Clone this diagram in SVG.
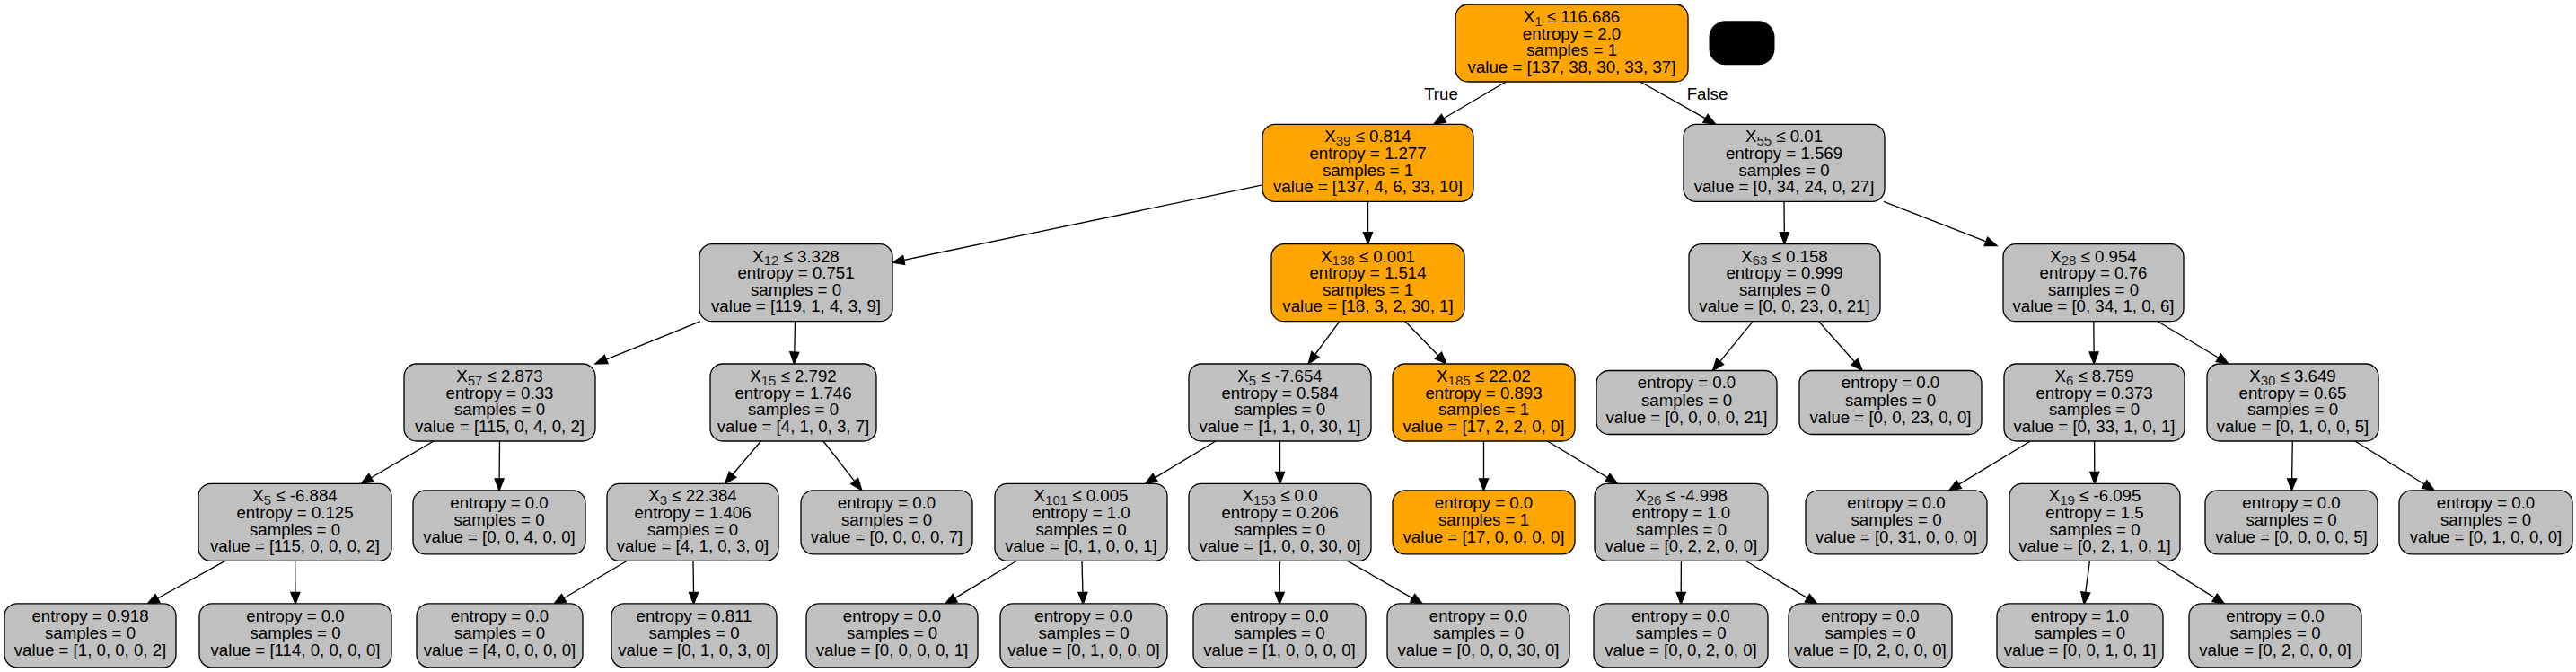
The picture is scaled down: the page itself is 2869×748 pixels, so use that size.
<svg xmlns="http://www.w3.org/2000/svg" width="2869" height="748" viewBox="0 0 2869 748">
<style>
.nd rect{stroke:#000;stroke-width:1.33}
.o rect{fill:#ffa500}
.g rect{fill:#c0c0c0}
text{font-family:"Liberation Sans",Arial,sans-serif;font-size:18.67px;text-anchor:middle;fill:#000}
.s{font-size:15px;fill:#222}
#edges line{stroke:#000;stroke-width:1.33}
#edges polygon{fill:#000;stroke:#000;stroke-width:1.33}
</style>
<rect width="2869" height="748" fill="#fff"/>
<g id="edges">
<line x1="1677.3" y1="91" x2="1607.9" y2="131.7"/><polygon points="1596.7,138.3 1605.4,127.4 1610.4,136"/>
<text x="1605" y="111">True</text>
<line x1="1826.8" y1="91" x2="1899.4" y2="131.9"/><polygon points="1910.7,138.3 1896.9,136.3 1901.9,127.5"/>
<text x="1901.5" y="111">False</text>
<line x1="1406" y1="205.9" x2="1006.7" y2="289.5"/><polygon points="994,292.2 1005.7,284.6 1007.7,294.4"/>
<line x1="1523.5" y1="224.3" x2="1523.5" y2="258.7"/><polygon points="1523.5,271.7 1518.5,258.7 1528.5,258.7"/>
<line x1="1987" y1="224.3" x2="1987.3" y2="258.7"/><polygon points="1987.5,271.7 1982.3,258.7 1992.3,258.7"/>
<line x1="2098" y1="224.3" x2="2211.9" y2="268.8"/><polygon points="2224,273.5 2210.1,273.5 2213.7,264.1"/>
<line x1="780" y1="357.7" x2="675.1" y2="400.1"/><polygon points="663,405 673.2,395.5 677,404.7"/>
<line x1="885.5" y1="357.7" x2="884.8" y2="392"/><polygon points="884.5,405 879.8,391.7 889.8,392.3"/>
<line x1="1491.9" y1="357.7" x2="1464.8" y2="394.5"/><polygon points="1457.1,405 1460.8,391.5 1468.8,397.5"/>
<line x1="1565.1" y1="357.7" x2="1601.9" y2="395.7"/><polygon points="1610.9,405 1598.3,399.2 1605.5,392.2"/>
<line x1="1952.3" y1="357.7" x2="1915.7" y2="402.4"/><polygon points="1907.5,412.5 1911.8,399.2 1919.6,405.6"/>
<line x1="2025.6" y1="357.7" x2="2065.5" y2="402.8"/><polygon points="2074.1,412.5 2061.8,406.1 2069.2,399.5"/>
<line x1="2331.8" y1="357.7" x2="2332.1" y2="392"/><polygon points="2332.2,405 2327.1,392 2337.1,392"/>
<line x1="2403.1" y1="357.7" x2="2470.8" y2="398.3"/><polygon points="2481.9,405 2468.2,402.6 2473.4,394"/>
<line x1="482.9" y1="491" x2="413.3" y2="531.7"/><polygon points="402.1,538.3 410.8,527.4 415.8,536"/>
<line x1="556.5" y1="491" x2="556.1" y2="532.8"/><polygon points="556,545.8 551.1,532.8 561.1,532.8"/>
<line x1="847.4" y1="491" x2="816" y2="528.3"/><polygon points="807.6,538.3 812.2,525.1 819.8,531.5"/>
<line x1="917" y1="491" x2="951.8" y2="535.6"/><polygon points="959.8,545.8 947.9,538.7 955.7,532.5"/>
<line x1="1354" y1="491" x2="1286.6" y2="531.6"/><polygon points="1275.5,538.3 1284,527.3 1289.2,535.9"/>
<line x1="1425.5" y1="491" x2="1425.5" y2="525.3"/><polygon points="1425.5,538.3 1420.5,525.3 1430.5,525.3"/>
<line x1="1652.5" y1="491" x2="1652.5" y2="532.8"/><polygon points="1652.5,545.8 1647.5,532.8 1657.5,532.8"/>
<line x1="1723.5" y1="491" x2="1790.4" y2="531.6"/><polygon points="1801.5,538.3 1787.8,535.9 1793,527.3"/>
<line x1="2261.4" y1="491" x2="2181.8" y2="539.1"/><polygon points="2170.7,545.8 2179.2,534.8 2184.4,543.4"/>
<line x1="2332.6" y1="491" x2="2332.8" y2="525.3"/><polygon points="2332.9,538.3 2327.8,525.3 2337.8,525.3"/>
<line x1="2553.3" y1="491" x2="2552.6" y2="532.8"/><polygon points="2552.4,545.8 2547.6,532.8 2557.6,532.8"/>
<line x1="2622.9" y1="491" x2="2700.2" y2="539"/><polygon points="2711.2,545.8 2697.6,543.3 2702.8,534.8"/>
<line x1="250.8" y1="624.3" x2="175.5" y2="666"/><polygon points="164.1,672.3 173.1,661.6 177.9,670.4"/>
<line x1="328.6" y1="624.3" x2="328.9" y2="659.3"/><polygon points="329,672.3 323.9,659.3 333.9,659.3"/>
<line x1="698.4" y1="624.3" x2="628" y2="665.7"/><polygon points="616.8,672.3 625.5,661.4 630.5,670"/>
<line x1="772" y1="624.3" x2="772.5" y2="659.3"/><polygon points="772.6,672.3 767.5,659.3 777.5,659.3"/>
<line x1="1132.4" y1="624.3" x2="1063.7" y2="665.6"/><polygon points="1052.6,672.3 1061.1,661.3 1066.3,669.9"/>
<line x1="1205" y1="624.3" x2="1205.9" y2="659.3"/><polygon points="1206.2,672.3 1200.9,659.3 1210.9,659.3"/>
<line x1="1425.4" y1="624.3" x2="1425.2" y2="659.3"/><polygon points="1425.1,672.3 1420.2,659.3 1430.2,659.3"/>
<line x1="1500.6" y1="624.3" x2="1573.2" y2="665.8"/><polygon points="1584.5,672.3 1570.7,670.1 1575.7,661.5"/>
<line x1="1872.4" y1="624.3" x2="1872.2" y2="659.3"/><polygon points="1872.1,672.3 1867.2,659.3 1877.2,659.3"/>
<line x1="1944.1" y1="624.3" x2="2012.8" y2="665.6"/><polygon points="2023.9,672.3 2010.2,669.9 2015.4,661.3"/>
<line x1="2327.4" y1="624.3" x2="2322.8" y2="659.4"/><polygon points="2321.1,672.3 2317.8,658.8 2327.8,660"/>
<line x1="2401.3" y1="624.3" x2="2466.6" y2="665.4"/><polygon points="2477.6,672.3 2463.9,669.6 2469.3,661.2"/>
</g>
<g id="legend"><rect x="1903.5" y="23.3" width="73" height="49" rx="18" fill="#000"/></g>
<g id="n0" class="nd o" transform="translate(1750.5,48)"><rect x="-129.5" y="-43" width="259" height="86" rx="14"/><text y="-23">X<tspan class="s" dy="3.5">1</tspan><tspan dy="-3.5"> ≤ 116.686</tspan></text><text y="-4.4">entropy = 2.0</text><text y="14.2">samples = 1</text><text y="32.6">value = [137, 38, 30, 33, 37]</text></g>
<g id="n1" class="nd o" transform="translate(1523.5,181.3)"><rect x="-117.5" y="-43" width="235" height="86" rx="14"/><text y="-23">X<tspan class="s" dy="3.5">39</tspan><tspan dy="-3.5"> ≤ 0.814</tspan></text><text y="-4.4">entropy = 1.277</text><text y="14.2">samples = 1</text><text y="32.6">value = [137, 4, 6, 33, 10]</text></g>
<g id="n2" class="nd g" transform="translate(1987,181.3)"><rect x="-112" y="-43" width="224" height="86" rx="14"/><text y="-23">X<tspan class="s" dy="3.5">55</tspan><tspan dy="-3.5"> ≤ 0.01</tspan></text><text y="-4.4">entropy = 1.569</text><text y="14.2">samples = 0</text><text y="32.6">value = [0, 34, 24, 0, 27]</text></g>
<g id="n3" class="nd g" transform="translate(886.5,314.7)"><rect x="-107.5" y="-43" width="215" height="86" rx="14"/><text y="-23">X<tspan class="s" dy="3.5">12</tspan><tspan dy="-3.5"> ≤ 3.328</tspan></text><text y="-4.4">entropy = 0.751</text><text y="14.2">samples = 0</text><text y="32.6">value = [119, 1, 4, 3, 9]</text></g>
<g id="n4" class="nd o" transform="translate(1523.5,314.7)"><rect x="-107.5" y="-43" width="215" height="86" rx="14"/><text y="-23">X<tspan class="s" dy="3.5">138</tspan><tspan dy="-3.5"> ≤ 0.001</tspan></text><text y="-4.4">entropy = 1.514</text><text y="14.2">samples = 1</text><text y="32.6">value = [18, 3, 2, 30, 1]</text></g>
<g id="n5" class="nd g" transform="translate(1987.5,314.7)"><rect x="-106.5" y="-43" width="213" height="86" rx="14"/><text y="-23">X<tspan class="s" dy="3.5">63</tspan><tspan dy="-3.5"> ≤ 0.158</tspan></text><text y="-4.4">entropy = 0.999</text><text y="14.2">samples = 0</text><text y="32.6">value = [0, 0, 23, 0, 21]</text></g>
<g id="n6" class="nd g" transform="translate(2331.5,314.7)"><rect x="-100.5" y="-43" width="201" height="86" rx="14"/><text y="-23">X<tspan class="s" dy="3.5">28</tspan><tspan dy="-3.5"> ≤ 0.954</tspan></text><text y="-4.4">entropy = 0.76</text><text y="14.2">samples = 0</text><text y="32.6">value = [0, 34, 1, 0, 6]</text></g>
<g id="n7" class="nd g" transform="translate(556.5,448)"><rect x="-106.5" y="-43" width="213" height="86" rx="14"/><text y="-23">X<tspan class="s" dy="3.5">57</tspan><tspan dy="-3.5"> ≤ 2.873</tspan></text><text y="-4.4">entropy = 0.33</text><text y="14.2">samples = 0</text><text y="32.6">value = [115, 0, 4, 0, 2]</text></g>
<g id="n8" class="nd g" transform="translate(883.5,448)"><rect x="-92.5" y="-43" width="185" height="86" rx="14"/><text y="-23">X<tspan class="s" dy="3.5">15</tspan><tspan dy="-3.5"> ≤ 2.792</tspan></text><text y="-4.4">entropy = 1.746</text><text y="14.2">samples = 0</text><text y="32.6">value = [4, 1, 0, 3, 7]</text></g>
<g id="n9" class="nd g" transform="translate(1425.5,448)"><rect x="-101.5" y="-43" width="203" height="86" rx="14"/><text y="-23">X<tspan class="s" dy="3.5">5</tspan><tspan dy="-3.5"> ≤ -7.654</tspan></text><text y="-4.4">entropy = 0.584</text><text y="14.2">samples = 0</text><text y="32.6">value = [1, 1, 0, 30, 1]</text></g>
<g id="n10" class="nd o" transform="translate(1652.5,448)"><rect x="-101.5" y="-43" width="203" height="86" rx="14"/><text y="-23">X<tspan class="s" dy="3.5">185</tspan><tspan dy="-3.5"> ≤ 22.02</tspan></text><text y="-4.4">entropy = 0.893</text><text y="14.2">samples = 1</text><text y="32.6">value = [17, 2, 2, 0, 0]</text></g>
<g id="n11" class="nd g" transform="translate(1878.5,448)"><rect x="-100.5" y="-35.5" width="201" height="71" rx="14"/><text y="-15.8">entropy = 0.0</text><text y="3.5">samples = 0</text><text y="22.8">value = [0, 0, 0, 0, 21]</text></g>
<g id="n12" class="nd g" transform="translate(2105.5,448)"><rect x="-101.5" y="-35.5" width="203" height="71" rx="14"/><text y="-15.8">entropy = 0.0</text><text y="3.5">samples = 0</text><text y="22.8">value = [0, 0, 23, 0, 0]</text></g>
<g id="n13" class="nd g" transform="translate(2332.5,448)"><rect x="-100.5" y="-43" width="201" height="86" rx="14"/><text y="-23">X<tspan class="s" dy="3.5">6</tspan><tspan dy="-3.5"> ≤ 8.759</tspan></text><text y="-4.4">entropy = 0.373</text><text y="14.2">samples = 0</text><text y="32.6">value = [0, 33, 1, 0, 1]</text></g>
<g id="n14" class="nd g" transform="translate(2553.5,448)"><rect x="-95.5" y="-43" width="191" height="86" rx="14"/><text y="-23">X<tspan class="s" dy="3.5">30</tspan><tspan dy="-3.5"> ≤ 3.649</tspan></text><text y="-4.4">entropy = 0.65</text><text y="14.2">samples = 0</text><text y="32.6">value = [0, 1, 0, 0, 5]</text></g>
<g id="n15" class="nd g" transform="translate(328.5,581.3)"><rect x="-107.5" y="-43" width="215" height="86" rx="14"/><text y="-23">X<tspan class="s" dy="3.5">5</tspan><tspan dy="-3.5"> ≤ -6.884</tspan></text><text y="-4.4">entropy = 0.125</text><text y="14.2">samples = 0</text><text y="32.6">value = [115, 0, 0, 0, 2]</text></g>
<g id="n16" class="nd g" transform="translate(556,581.3)"><rect x="-96" y="-35.5" width="192" height="71" rx="14"/><text y="-15.8">entropy = 0.0</text><text y="3.5">samples = 0</text><text y="22.8">value = [0, 0, 4, 0, 0]</text></g>
<g id="n17" class="nd g" transform="translate(771.5,581.3)"><rect x="-95.5" y="-43" width="191" height="86" rx="14"/><text y="-23">X<tspan class="s" dy="3.5">3</tspan><tspan dy="-3.5"> ≤ 22.384</tspan></text><text y="-4.4">entropy = 1.406</text><text y="14.2">samples = 0</text><text y="32.6">value = [4, 1, 0, 3, 0]</text></g>
<g id="n18" class="nd g" transform="translate(987.5,581.3)"><rect x="-95.5" y="-35.5" width="191" height="71" rx="14"/><text y="-15.8">entropy = 0.0</text><text y="3.5">samples = 0</text><text y="22.8">value = [0, 0, 0, 0, 7]</text></g>
<g id="n19" class="nd g" transform="translate(1204,581.3)"><rect x="-96" y="-43" width="192" height="86" rx="14"/><text y="-23">X<tspan class="s" dy="3.5">101</tspan><tspan dy="-3.5"> ≤ 0.005</tspan></text><text y="-4.4">entropy = 1.0</text><text y="14.2">samples = 0</text><text y="32.6">value = [0, 1, 0, 0, 1]</text></g>
<g id="n20" class="nd g" transform="translate(1425.5,581.3)"><rect x="-101.5" y="-43" width="203" height="86" rx="14"/><text y="-23">X<tspan class="s" dy="3.5">153</tspan><tspan dy="-3.5"> ≤ 0.0</tspan></text><text y="-4.4">entropy = 0.206</text><text y="14.2">samples = 0</text><text y="32.6">value = [1, 0, 0, 30, 0]</text></g>
<g id="n21" class="nd o" transform="translate(1652.5,581.3)"><rect x="-101.5" y="-35.5" width="203" height="71" rx="14"/><text y="-15.8">entropy = 0.0</text><text y="3.5">samples = 1</text><text y="22.8">value = [17, 0, 0, 0, 0]</text></g>
<g id="n22" class="nd g" transform="translate(1872.5,581.3)"><rect x="-96.5" y="-43" width="193" height="86" rx="14"/><text y="-23">X<tspan class="s" dy="3.5">26</tspan><tspan dy="-3.5"> ≤ -4.998</tspan></text><text y="-4.4">entropy = 1.0</text><text y="14.2">samples = 0</text><text y="32.6">value = [0, 2, 2, 0, 0]</text></g>
<g id="n23" class="nd g" transform="translate(2112,581.3)"><rect x="-101" y="-35.5" width="202" height="71" rx="14"/><text y="-15.8">entropy = 0.0</text><text y="3.5">samples = 0</text><text y="22.8">value = [0, 31, 0, 0, 0]</text></g>
<g id="n24" class="nd g" transform="translate(2333,581.3)"><rect x="-95" y="-43" width="190" height="86" rx="14"/><text y="-23">X<tspan class="s" dy="3.5">19</tspan><tspan dy="-3.5"> ≤ -6.095</tspan></text><text y="-4.4">entropy = 1.5</text><text y="14.2">samples = 0</text><text y="32.6">value = [0, 2, 1, 0, 1]</text></g>
<g id="n25" class="nd g" transform="translate(2552,581.3)"><rect x="-96" y="-35.5" width="192" height="71" rx="14"/><text y="-15.8">entropy = 0.0</text><text y="3.5">samples = 0</text><text y="22.8">value = [0, 0, 0, 0, 5]</text></g>
<g id="n26" class="nd g" transform="translate(2768.5,581.3)"><rect x="-96.5" y="-35.5" width="193" height="71" rx="14"/><text y="-15.8">entropy = 0.0</text><text y="3.5">samples = 0</text><text y="22.8">value = [0, 1, 0, 0, 0]</text></g>
<g id="n27" class="nd g" transform="translate(100.5,707.3)"><rect x="-95.5" y="-35.5" width="191" height="71" rx="14"/><text y="-15.8">entropy = 0.918</text><text y="3.5">samples = 0</text><text y="22.8">value = [1, 0, 0, 0, 2]</text></g>
<g id="n28" class="nd g" transform="translate(329,707.3)"><rect x="-107" y="-35.5" width="214" height="71" rx="14"/><text y="-15.8">entropy = 0.0</text><text y="3.5">samples = 0</text><text y="22.8">value = [114, 0, 0, 0, 0]</text></g>
<g id="n29" class="nd g" transform="translate(556.5,707.3)"><rect x="-92.5" y="-35.5" width="185" height="71" rx="14"/><text y="-15.8">entropy = 0.0</text><text y="3.5">samples = 0</text><text y="22.8">value = [4, 0, 0, 0, 0]</text></g>
<g id="n30" class="nd g" transform="translate(773,707.3)"><rect x="-92" y="-35.5" width="184" height="71" rx="14"/><text y="-15.8">entropy = 0.811</text><text y="3.5">samples = 0</text><text y="22.8">value = [0, 1, 0, 3, 0]</text></g>
<g id="n31" class="nd g" transform="translate(993.5,707.3)"><rect x="-95.5" y="-35.5" width="191" height="71" rx="14"/><text y="-15.8">entropy = 0.0</text><text y="3.5">samples = 0</text><text y="22.8">value = [0, 0, 0, 0, 1]</text></g>
<g id="n32" class="nd g" transform="translate(1207,707.3)"><rect x="-93" y="-35.5" width="186" height="71" rx="14"/><text y="-15.8">entropy = 0.0</text><text y="3.5">samples = 0</text><text y="22.8">value = [0, 1, 0, 0, 0]</text></g>
<g id="n33" class="nd g" transform="translate(1425,707.3)"><rect x="-96" y="-35.5" width="192" height="71" rx="14"/><text y="-15.8">entropy = 0.0</text><text y="3.5">samples = 0</text><text y="22.8">value = [1, 0, 0, 0, 0]</text></g>
<g id="n34" class="nd g" transform="translate(1646.5,707.3)"><rect x="-101.5" y="-35.5" width="203" height="71" rx="14"/><text y="-15.8">entropy = 0.0</text><text y="3.5">samples = 0</text><text y="22.8">value = [0, 0, 0, 30, 0]</text></g>
<g id="n35" class="nd g" transform="translate(1872,707.3)"><rect x="-97" y="-35.5" width="194" height="71" rx="14"/><text y="-15.8">entropy = 0.0</text><text y="3.5">samples = 0</text><text y="22.8">value = [0, 0, 2, 0, 0]</text></g>
<g id="n36" class="nd g" transform="translate(2083,707.3)"><rect x="-91" y="-35.5" width="182" height="71" rx="14"/><text y="-15.8">entropy = 0.0</text><text y="3.5">samples = 0</text><text y="22.8">value = [0, 2, 0, 0, 0]</text></g>
<g id="n37" class="nd g" transform="translate(2316.5,707.3)"><rect x="-92.5" y="-35.5" width="185" height="71" rx="14"/><text y="-15.8">entropy = 1.0</text><text y="3.5">samples = 0</text><text y="22.8">value = [0, 0, 1, 0, 1]</text></g>
<g id="n38" class="nd g" transform="translate(2534,707.3)"><rect x="-96" y="-35.5" width="192" height="71" rx="14"/><text y="-15.8">entropy = 0.0</text><text y="3.5">samples = 0</text><text y="22.8">value = [0, 2, 0, 0, 0]</text></g>
</svg>
